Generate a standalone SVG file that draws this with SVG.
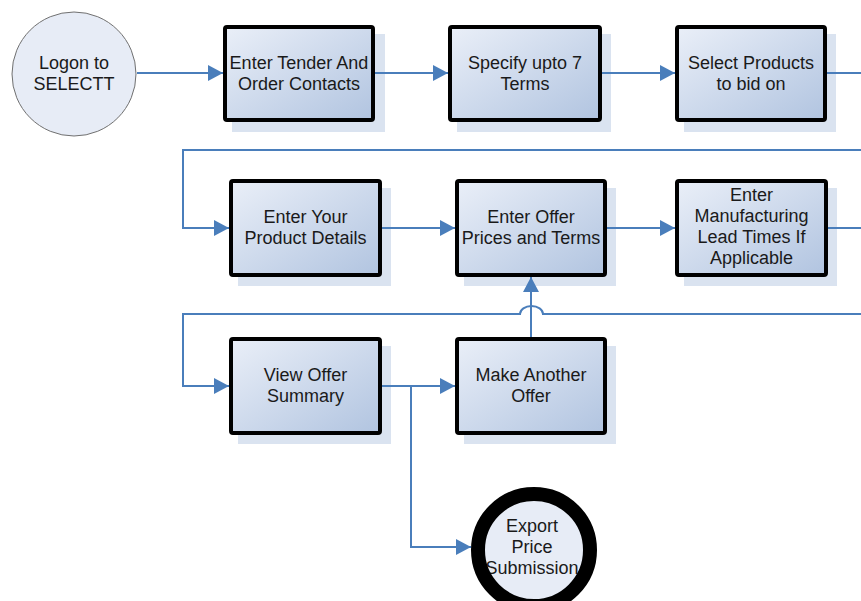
<svg xmlns="http://www.w3.org/2000/svg" width="861" height="601" viewBox="0 0 861 601">
<defs>
<linearGradient id="bg" x1="0" y1="0" x2="1" y2="1">
<stop offset="0" stop-color="#EAEFF8"/>
<stop offset="1" stop-color="#B1C4E0"/>
</linearGradient>
<marker id="ah" markerUnits="userSpaceOnUse" markerWidth="17" markerHeight="17" refX="15" refY="8" orient="auto">
<path d="M0,0 L15,8 L0,16 z" fill="#4A7EBB"/>
</marker>
<style>
.sh{fill:#DAE3F0}
.bx{fill:url(#bg);stroke:#000;stroke-width:4}
.t{font-family:"Liberation Sans",Arial,sans-serif;font-size:18px;fill:#1a1a1a;text-anchor:middle}
.c{fill:none;stroke:#4A7EBB;stroke-width:2}
</style>
</defs>
<rect width="861" height="601" fill="#fff"/>

<g id="logon">
<circle cx="74" cy="74" r="62" fill="#E7ECF6" stroke="#707070" stroke-width="1"/>
<text class="t" x="74" y="69">Logon to</text>
<text class="t" x="74" y="90">SELECTT</text>
</g>

<g id="tender">
<rect class="sh" x="232" y="34" width="153" height="98"/>
<rect class="bx" x="225" y="27" width="148" height="93" rx="2"/>
<text class="t" x="299" y="69">Enter Tender And</text>
<text class="t" x="299" y="90">Order Contacts</text>
</g>

<g id="terms">
<rect class="sh" x="457" y="34" width="154" height="98"/>
<rect class="bx" x="450" y="27" width="150" height="93" rx="2"/>
<text class="t" x="525" y="69">Specify upto 7</text>
<text class="t" x="525" y="90">Terms</text>
</g>

<g id="products">
<rect class="sh" x="684" y="34" width="152" height="98"/>
<rect class="bx" x="677" y="27" width="148" height="93" rx="2"/>
<text class="t" x="751" y="69">Select Products</text>
<text class="t" x="751" y="90">to bid on</text>
</g>

<g id="details">
<rect class="sh" x="238" y="188" width="153" height="98"/>
<rect class="bx" x="231" y="181" width="149" height="94" rx="2"/>
<text class="t" x="305.5" y="223">Enter Your</text>
<text class="t" x="305.5" y="244">Product Details</text>
</g>

<g id="prices">
<rect class="sh" x="464" y="188" width="152" height="98"/>
<rect class="bx" x="457" y="181" width="148" height="94" rx="2"/>
<text class="t" x="531" y="223">Enter Offer</text>
<text class="t" x="531" y="244">Prices and Terms</text>
</g>

<g id="leadtimes">
<rect class="sh" x="684" y="188" width="153" height="98"/>
<rect class="bx" x="677" y="181" width="149" height="94" rx="2"/>
<text class="t" x="751.5" y="201">Enter</text>
<text class="t" x="751.5" y="222">Manufacturing</text>
<text class="t" x="751.5" y="243">Lead Times If</text>
<text class="t" x="751.5" y="264">Applicable</text>
</g>

<g id="summary">
<rect class="sh" x="238" y="346" width="153" height="98"/>
<rect class="bx" x="231" y="339" width="149" height="94" rx="2"/>
<text class="t" x="305.5" y="381">View Offer</text>
<text class="t" x="305.5" y="402">Summary</text>
</g>

<g id="another">
<rect class="sh" x="464" y="346" width="152" height="98"/>
<rect class="bx" x="457" y="339" width="148" height="94" rx="2"/>
<text class="t" x="531" y="381">Make Another</text>
<text class="t" x="531" y="402">Offer</text>
</g>

<g id="export">
<circle cx="534" cy="550" r="56" fill="#E7ECF6"/>
<text class="t" x="532" y="532">Export</text>
<text class="t" x="532" y="553">Price</text>
<text class="t" x="532" y="574">Submission</text>
<circle cx="534" cy="550" r="56" fill="none" stroke="#000" stroke-width="14"/>
</g>

<g id="connectors">
<path class="c" d="M137,73 H223" marker-end="url(#ah)"/>
<path class="c" d="M375,73 H448" marker-end="url(#ah)"/>
<path class="c" d="M602,73 H675" marker-end="url(#ah)"/>
<path class="c" d="M827,73 H861"/>
<path class="c" d="M861,150 H183 V228 H229" marker-end="url(#ah)"/>
<path class="c" d="M382,228 H455" marker-end="url(#ah)"/>
<path class="c" d="M607,228 H675" marker-end="url(#ah)"/>
<path class="c" d="M828,228 H861"/>
<path class="c" d="M861,314 H543 A11.5,8 0 0 0 520,314 H183 V386 H229" marker-end="url(#ah)"/>
<path class="c" d="M382,386 H455" marker-end="url(#ah)"/>
<path class="c" d="M411,386 V547 H471" marker-end="url(#ah)"/>
<path class="c" d="M531,337 V277" marker-end="url(#ah)"/>
</g>
</svg>
